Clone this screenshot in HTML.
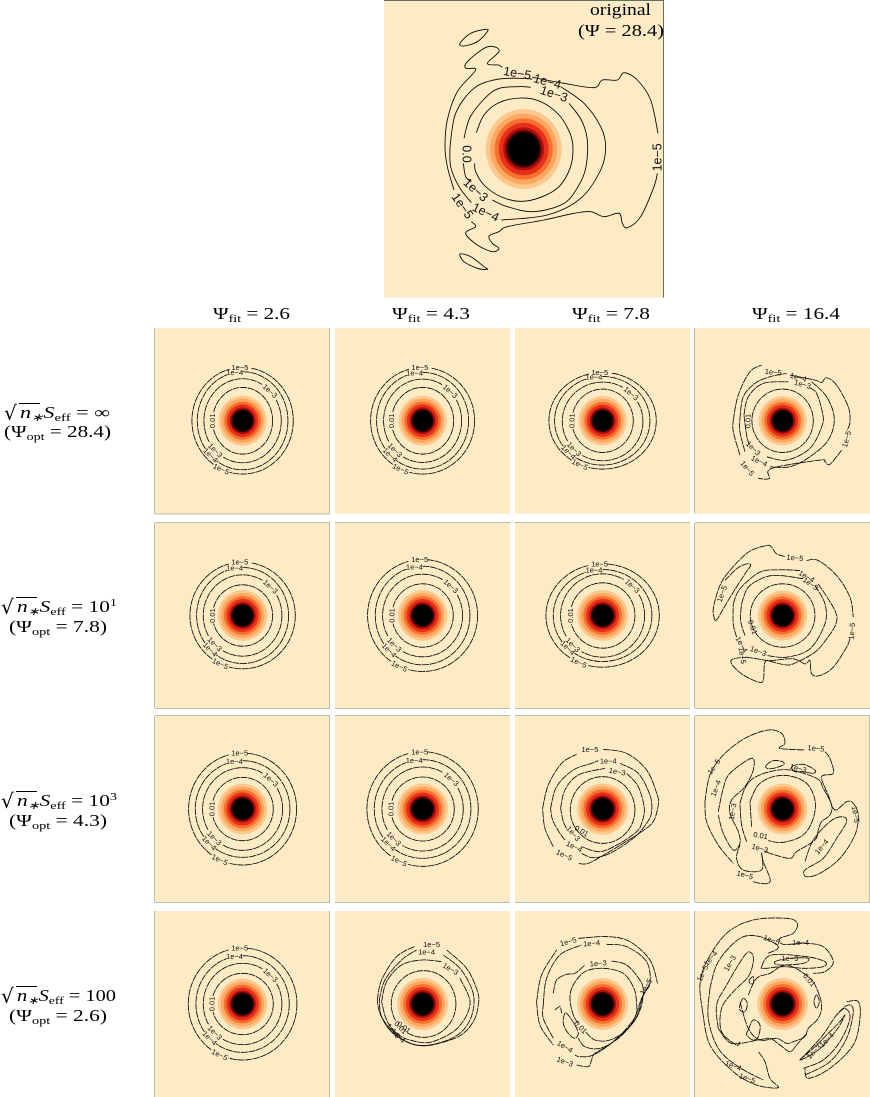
<!DOCTYPE html>
<html lang="en">
<head>
<meta charset="utf-8">
<title>Contour panels</title>
<style>
html,body{margin:0;padding:0;background:#fff;}
svg{display:block;}
.m{font-family:"Liberation Serif",serif;font-size:16.5px;fill:#000;}
.i{font-style:italic;}
.s{font-size:11px;}
</style>
</head>
<body>
<svg id="fig" width="870" height="1097" viewBox="0 0 870 1097" xmlns="http://www.w3.org/2000/svg">
  <g id="panels"></g>

  <text class="m" x="590" y="15" textLength="61" lengthAdjust="spacingAndGlyphs">original</text>
  <text class="m" x="578" y="36" textLength="86" lengthAdjust="spacingAndGlyphs">(Ψ = 28.4)</text>

  <text class="m" x="213" y="319" textLength="77" lengthAdjust="spacingAndGlyphs">Ψ<tspan class="s" dy="3">fit</tspan><tspan dy="-3"> = 2.6</tspan></text>
  <text class="m" x="392" y="319" textLength="78" lengthAdjust="spacingAndGlyphs">Ψ<tspan class="s" dy="3">fit</tspan><tspan dy="-3"> = 4.3</tspan></text>
  <text class="m" x="572" y="319" textLength="78" lengthAdjust="spacingAndGlyphs">Ψ<tspan class="s" dy="3">fit</tspan><tspan dy="-3"> = 7.8</tspan></text>
  <text class="m" x="752" y="319" textLength="88" lengthAdjust="spacingAndGlyphs">Ψ<tspan class="s" dy="3">fit</tspan><tspan dy="-3"> = 16.4</tspan></text>

  <g>
    <text class="m" x="4" y="420" style="font-size:20px;font-family:'DejaVu Sans',sans-serif">√</text>
    <line x1="19" y1="403.5" x2="40" y2="403.5" stroke="#000" stroke-width="0.9"/>
    <text class="m" x="20" y="418" textLength="90" lengthAdjust="spacingAndGlyphs"><tspan class="i">n</tspan><tspan class="s i" dy="3">∗</tspan><tspan class="i" dy="-3">S</tspan><tspan class="s" dy="3">eff</tspan><tspan dy="-3"> = ∞</tspan></text>
    <text class="m" x="4" y="437" textLength="107" lengthAdjust="spacingAndGlyphs">(Ψ<tspan class="s" dy="3">opt</tspan><tspan dy="-3"> = 28.4)</tspan></text>
  </g>
  <g>
    <text class="m" x="1" y="614" style="font-size:20px;font-family:'DejaVu Sans',sans-serif">√</text>
    <line x1="16" y1="597.5" x2="37" y2="597.5" stroke="#000" stroke-width="0.9"/>
    <text class="m" x="17" y="612" textLength="100" lengthAdjust="spacingAndGlyphs"><tspan class="i">n</tspan><tspan class="s i" dy="3">∗</tspan><tspan class="i" dy="-3">S</tspan><tspan class="s" dy="3">eff</tspan><tspan dy="-3"> = 10</tspan><tspan class="s" dy="-6">1</tspan></text>
    <text class="m" x="9" y="632" textLength="98" lengthAdjust="spacingAndGlyphs">(Ψ<tspan class="s" dy="3">opt</tspan><tspan dy="-3"> = 7.8)</tspan></text>
  </g>
  <g>
    <text class="m" x="1" y="808" style="font-size:20px;font-family:'DejaVu Sans',sans-serif">√</text>
    <line x1="16" y1="791.5" x2="37" y2="791.5" stroke="#000" stroke-width="0.9"/>
    <text class="m" x="17" y="806" textLength="100" lengthAdjust="spacingAndGlyphs"><tspan class="i">n</tspan><tspan class="s i" dy="3">∗</tspan><tspan class="i" dy="-3">S</tspan><tspan class="s" dy="3">eff</tspan><tspan dy="-3"> = 10</tspan><tspan class="s" dy="-6">3</tspan></text>
    <text class="m" x="9" y="826" textLength="98" lengthAdjust="spacingAndGlyphs">(Ψ<tspan class="s" dy="3">opt</tspan><tspan dy="-3"> = 4.3)</tspan></text>
  </g>
  <g>
    <text class="m" x="1" y="1003" style="font-size:20px;font-family:'DejaVu Sans',sans-serif">√</text>
    <line x1="16" y1="986.5" x2="37" y2="986.5" stroke="#000" stroke-width="0.9"/>
    <text class="m" x="17" y="1001" textLength="99" lengthAdjust="spacingAndGlyphs"><tspan class="i">n</tspan><tspan class="s i" dy="3">∗</tspan><tspan class="i" dy="-3">S</tspan><tspan class="s" dy="3">eff</tspan><tspan dy="-3"> = 100</tspan></text>
    <text class="m" x="9" y="1021" textLength="98" lengthAdjust="spacingAndGlyphs">(Ψ<tspan class="s" dy="3">opt</tspan><tspan dy="-3"> = 2.6)</tspan></text>
  </g>
</svg>

<script>
// ---- heat map levels ----
const heatColors = ['#fdc88e', '#fda862', '#f7702e', '#e7301c', '#b00f0c', '#520000', '#000000'];
const heatFractions = [1, 0.885, 0.765, 0.655, 0.54, 0.47, 0.42];

// ---- ring contours: [dx, dy, rx, ry] in grid units around each panel's centre ----
const ringsR1C1 = [[0,0,90,100],[0,0,116,126],[0,0,136,147],[0,0,152,160]];
const ringsR1C2 = [[0,0,93,100],[0,0,117,125],[0,0,138,145],[0,0,156,160]];
const ringsR1C3 = [[0,0,92,95],[0,2,121,118],[-1,0,143,133],[0,0,161,145]];
const ringsR2C1 = [[0,0,90,92],[0,0,118,122],[0,0,138,144],[0,0,158,160]];
const ringsR2C2 = [[0,0,92,95],[0,0,120,124],[0,0,142,148],[0,0,165,168]];
const ringsR2C3 = [[0,0,97,98],[0,0,126,125],[0,0,148,138],[0,0,170,155]];
const ringsR3C1 = [[0,0,92,95],[0,0,120,124],[0,0,142,145],[0,0,162,168]];
const ringsR3C2 = [[0,0,95,96],[0,0,122,126],[0,0,145,148],[0,0,167,172]];
const ringsR4C1 = [[0,0,92,92],[0,0,118,122],[0,0,140,145],[0,0,163,168]];
// a single inner ring for the panels whose outer contours are traced
const ringInnerR1C4 = [[0,0,92,95]];
const ringInnerR2C4 = [[0,0,97,95]];
const ringInnerR3C3 = [[0,3,97,100]];
const ringInnerR4C2 = [[3,0,97,100]];

// ---- ring labels: [ring index, angle clockwise from east, text, text rotation] ----
const ringLabelsStandard = [
  [3, 267, '1e−5', 0],
  [2, 260, '1e−4', 0],
  [1, 315, '1e−3', 42],
  [0, 180, '0.01', -90],
  [1, 135, '1e−3', 45],
  [2, 135, '1e−4', 45],
  [3, 115, '1e−5', 25]
];
const ringLabelsInnerDiag = [[0, 135, '0.01', 45]];

// ---- traced contours, grid units (first point equals last point when closed) ----
const contoursTop = [
  [[277,398],[300,345],[345,308],[410,294],[470,305],[525,345],[558,400],[567,447],[558,505],[525,560],[470,592],[410,604],[350,590],[300,555],[275,515],[272,490]],
  [[240,415],[262,345],[330,272],[400,260],[440,262]],
  [[555,310],[592,360],[610,420],[606,500],[585,555],[540,610],[450,635],[370,620],[325,600]],
  [[262,545],[245,530],[238,490]],
  [[198,440],[215,340],[270,265],[340,238],[420,235],[445,238]],
  [[530,260],[600,310],[650,380],[665,440],[650,510],[590,595],[490,645],[352,660]],
  [[262,608],[225,560],[200,500],[198,440]],
  [[345,195],[355,202]],
  [[445,232],[540,250],[630,263],[655,240],[700,240],[720,218],[760,240],[800,300],[822,400]],
  [[820,520],[810,560],[770,650],[730,683],[715,670],[705,640],[660,650],[620,635],[570,640],[480,660],[370,680],[345,695],[315,708],[325,730],[345,745],[325,755],[280,735],[245,700],[275,680],[262,665]],
  [[210,570],[190,500],[183,440],[190,360],[220,275],[275,210],[245,205],[250,185],[300,145],[330,140],[345,155],[310,190],[345,195]],
  [[228,130],[260,100],[305,88],[310,95],[280,125],[240,138],[228,130]],
  [[228,762],[260,770],[300,800],[310,808],[280,805],[240,785],[228,762]]
];
const labelsTop = [
  ['1e−5',400,220,10],['1e−4',490,245,15],['1e−3',510,282,18],['0.0',248,462,90],
  ['1e−3',275,570,42],['1e−4',305,637,25],['1e−5',235,618,55],['1e−5',820,472,-90]
];
const contoursR1C4 = [
  [[162,270],[175,215],[220,175],[295,170]],
  [[360,188],[380,205],[397,260],[397,300],[360,370],[290,405],[230,395]],
  [[178,360],[170,330],[162,270]],
  [[150,280],[160,215],[195,175],[240,155],[290,145]],
  [[365,170],[410,215],[433,280],[415,345],[360,395],[300,425],[240,425]],
  [[165,380],[150,320],[150,280]],
  [[130,285],[145,210],[180,140],[215,120]],
  [[300,150],[375,165],[395,172],[410,158],[440,180],[475,245],[480,290],[472,315]],
  [[455,375],[420,418],[405,410],[390,405],[245,430],[238,460],[205,460]],
  [[150,390],[130,320],[130,285]]
];
const labelsR1C4 = [
  ['1e−5',250,141,5],['1e−4',325,157,15],['1e−3',338,178,15],['0.01',174,288,-90],
  ['1e−3',190,370,45],['1e−4',208,408,25],['1e−5',172,430,50],['1e−5',470,342,-75]
];
const contoursR2C4 = [
  [[155,250],[175,200],[225,170],[270,165],[340,175]],
  [[375,195],[405,250],[405,310],[360,385],[290,410],[230,405]],
  [[165,345],[152,300],[155,250]],
  [[130,250],[150,205],[210,155],[270,148],[330,150]],
  [[385,190],[435,270],[438,310],[410,355],[375,395],[310,430],[280,432],[230,420],[170,410]],
  [[140,350],[130,310],[130,250]],
  [[75,300],[70,265],[90,195],[120,150],[175,95],[230,75],[245,80],[260,100],[285,108]],
  [[350,120],[385,120],[440,165],[480,230],[490,290]],
  [[480,355],[470,380],[430,440],[390,465],[365,460],[360,420],[345,430],[310,415],[250,420],[225,425],[220,480],[200,483],[155,460],[125,430],[130,415],[170,410]],
  [[75,300],[82,296],[100,265],[130,215],[165,160],[182,135],[170,130],[140,145],[105,180]]
];
const labelsR2C4 = [
  ['1e−5',315,112,5],['1e−4',350,168,30],['1e−3',362,190,35],['0.01',188,320,70],
  ['1e−3',205,392,20],['1e−4',155,372,60],['1e−5',157,405,80],['1e−5',96,220,-70],['1e−5',486,332,-85]
];
const contoursR3C3 = [
  [[152,280],[165,225],[205,180],[285,160]],
  [[350,175],[385,215],[403,280],[395,325],[380,350],[330,385],[270,410],[215,395]],
  [[170,340],[160,320],[152,280]],
  [[122,280],[140,215],[190,165],[245,145],[265,137]],
  [[330,145],[385,175],[420,240],[425,290],[410,325],[370,370],[300,415],[250,428],[215,415]],
  [[165,375],[150,355],[128,315],[122,280]],
  [[98,280],[115,210],[155,145],[200,118]],
  [[280,103],[350,115],[410,165],[442,240],[445,270],[430,320],[395,350],[340,385],[290,415],[235,445],[205,445]],
  [[130,395],[105,340],[98,280]]
];
const labelsR3C3 = [
  ['1e−5',240,104,0],['1e−4',295,138,0],['1e−3',322,170,10],['0.01',215,348,30],
  ['1e−3',190,356,50],['1e−4',193,395,25],['1e−5',163,420,25]
];
const contoursR4C2 = [
  [[155,290],[170,230],[215,180],[275,165],[335,170]],
  [[390,220],[415,270],[420,300],[405,340],[370,380],[300,412],[240,405],[200,385],[170,345],[155,290]],
  [[148,285],[165,225],[215,165],[260,135]],
  [[340,150],[390,190],[425,250],[432,300],[415,355],[375,395],[300,420],[240,415],[190,380],[155,335],[148,285]],
  [[142,285],[155,225],[200,155],[255,124]],
  [[350,135],[410,190],[443,260],[445,300],[430,350],[385,395],[290,422],[230,410],[180,375],[150,325],[142,285]]
];
const labelsR4C2 = [
  ['1e−5',305,119,0],['1e−4',290,141,0],['1e−3',362,192,30],['0.01',222,367,35],
  ['1e−3',190,378,50],['1e−4',205,392,45]
];
const contoursR4C3 = [
  [[380,290],[372,250],[340,205],[280,190],[225,200],[190,240],[180,280],[190,330],[205,355]],
  [[228,382],[255,405],[300,405],[350,375],[378,330],[380,290]],
  [[130,265],[140,225],[170,208],[195,205],[225,180]],
  [[305,168],[350,180],[390,225],[400,255],[395,300],[375,345],[325,400],[270,430],[225,425],[205,400]],
  [[135,315],[150,305],[155,325]],
  [[165,325],[160,355],[175,385],[195,400],[205,385],[195,360],[175,330],[165,325]],
  [[100,300],[110,220],[150,150],[215,120]],
  [[290,118],[350,125],[410,170],[420,235],[400,270],[375,345],[310,410],[250,450],[210,455],[195,450]],
  [[130,400],[100,340],[100,300]],
  [[80,290],[95,210],[140,135]],
  [[205,100],[295,95],[360,110],[420,165],[443,235]],
  [[80,290],[90,360],[130,420]],
  [[200,480],[235,485],[245,465],[255,445],[310,410],[370,345],[395,280],[420,235]]
];
const labelsR4C3 = [
  ['1e−5',175,110,-15],['1e−4',245,115,-5],['1e−3',265,175,-5],['0.01',212,367,45],
  ['1e−4',165,425,30],['1e−3',165,470,20],['1e−5',408,245,-60]
];
const contoursR3C4 = [
  [[180,260],[205,210],[250,185],[300,183],[350,205],[375,255],[370,310],[340,360],[280,382],[235,377]],
  [[185,335],[180,260]],
  [[150,265],[165,220],[190,190],[240,170],[300,165],[380,190],[400,220],[425,270],[420,300],[395,320],[385,345],[375,375],[320,410],[300,430],[240,415],[225,408]],
  [[170,380],[155,330],[150,265]],
  [[85,290],[100,220],[120,175],[185,130],[190,165],[165,215],[125,255],[120,295],[145,350],[150,385],[130,405],[100,355],[85,300]],
  [[45,260],[60,180],[100,120],[165,70],[235,45],[275,55],[285,85],[270,100],[345,105]],
  [[405,110],[420,130],[430,175],[395,185],[415,240],[435,285],[470,260],[490,265],[505,300],[495,360],[450,430],[390,475],[350,485],[345,465],[400,430],[440,370],[470,320],[455,305],[420,320],[370,375],[345,440]],
  [[45,260],[50,320],[85,390],[130,445]],
  [[190,500],[210,505],[235,505],[240,490],[220,440],[215,415],[215,465],[160,465],[140,430],[150,390]],
  [[228,152],[250,137],[278,140],[280,150],[250,160],[232,160],[228,152]],
  [[305,155],[340,148],[375,165],[370,175],[340,170],[315,170],[305,155]]
];
const labelsR3C4 = [
  ['1e−5',378,100,5],['1e−5',72,155,-55],['1e−4',78,220,-70],['1e−3',128,290,-80],['0.01',212,362,10],
  ['1e−3',210,400,15],['1e−5',165,480,15],['1e−5',497,298,80],['1e−4',395,395,-50],['1e−3',325,160,15]
];
const contoursR4C4 = [
  [[38,320],[30,240],[50,170],[110,85],[190,45],[290,40],[322,55],[310,85],[270,100],[280,118],[345,115],[400,125],[430,170],[405,200],[370,205]],
  [[470,290],[505,290],[510,340],[490,420],[420,490],[355,520],[345,490]],
  [[38,320],[60,420],[130,500],[200,540],[265,548],[240,520],[225,470],[205,440]],
  [[60,250],[85,170],[150,100],[210,95],[265,125],[235,145]],
  [[85,370],[80,300],[110,240],[165,150],[185,145],[190,170],[175,215],[130,260],[95,310],[95,380],[140,420],[150,410]],
  [[340,490],[400,465],[450,410],[480,340],[465,310],[440,330]],
  [[330,465],[385,435],[440,375],[465,330],[450,350],[420,380],[370,430],[330,465]],
  [[345,510],[420,470],[470,400],[490,320],[475,300],[440,330],[395,395],[330,465]],
  [[215,185],[245,150],[350,155],[405,170],[400,185],[345,190],[280,185],[225,190],[215,185]],
  [[255,170],[300,160],[355,160],[340,175],[270,180],[255,170]],
  [[175,270],[200,220],[240,205],[290,180],[355,215],[380,250],[395,300],[385,340],[355,370],[345,395],[310,410],[290,415],[260,400],[210,405],[175,370],[150,290]],
  [[175,375],[190,345],[210,360],[205,395],[190,405],[170,390],[175,375]],
  [[150,300],[160,280],[172,295],[165,320],[150,315],[150,300]],
  [[178,225],[190,215],[190,235],[180,235],[178,225]],
  [[85,370],[125,415],[205,405],[240,400],[270,420],[300,440],[320,420],[350,385]],
  [[60,250],[55,340],[85,430],[145,485],[220,525]],
  [[380,270],[388,290],[380,310],[372,290],[380,270]]
];
const labelsR4C4 = [
  ['1e−4',332,113,0],['1e−5',38,205,-65],['1e−4',62,160,-50],['1e−3',120,175,-60],['1e−3',300,160,0],
  ['1e−5',172,520,20],['1e−4',130,482,20],['1e−3',372,440,-45],['1e−4',410,405,-45],['0.01',358,225,50],['1e−5',245,105,20]
];

// ---- panels ----
const panelNames = ['top','r1c1','r1c2','r1c3','r1c4','r2c1','r2c2','r2c3','r2c4','r3c1','r3c2','r3c3','r3c4','r4c1','r4c2','r4c3','r4c4'];
const panelRows = [-1,0,0,0,0,1,1,1,1,2,2,2,2,3,3,3,3];
const panelCols = [-1,0,1,2,3,0,1,2,3,0,1,2,3,0,1,2,3];
const panelGridCentres = [[419,447],[0,0],[0,0],[0,0],[278,287],[0,0],[0,0],[0,0],[278,285],[0,0],[0,0],[278,282],[278,282],[0,0],[278,297],[278,297],[278,297]];
const panelRadii = [[114,120],[72,75],[72,75],[72,74],[72,74],[74,76],[74,76],[76,76],[74,75],[74,76],[76,76],[76,77],[74,76],[74,76],[76,78],[76,78],[76,78]];
const panelRings = [[],ringsR1C1,ringsR1C2,ringsR1C3,ringInnerR1C4,ringsR2C1,ringsR2C2,ringsR2C3,ringInnerR2C4,ringsR3C1,ringsR3C2,ringInnerR3C3,[],ringsR4C1,ringInnerR4C2,[],[]];
const panelRingLabels = [[],ringLabelsStandard,ringLabelsStandard,ringLabelsStandard,[],ringLabelsStandard,ringLabelsStandard,ringLabelsStandard,[],ringLabelsStandard,ringLabelsStandard,[],[],ringLabelsStandard,ringLabelsInnerDiag,[],[]];
const panelContours = [contoursTop,[],[],[],contoursR1C4,[],[],[],contoursR2C4,[],[],contoursR3C3,contoursR3C4,[],contoursR4C2,contoursR4C3,contoursR4C4];
const panelLabels = [labelsTop,[],[],[],labelsR1C4,[],[],[],labelsR2C4,[],[],labelsR3C3,labelsR3C4,[],labelsR4C2,labelsR4C3,labelsR4C4];
const panelBorders = ['tr','lrb','','','l','lrtb','tb','tb','ltb','lrtb','tb','tb','ltrb','lr','','','l'];

const NS = 'http://www.w3.org/2000/svg';
const root = document.getElementById('panels');
const rowTop = [328, 523, 716, 911];
const rowBottom = [513.5, 708, 902, 1097];
const colLeft = [155, 335, 515, 695];
const panelSize = 175;
const gridToPx = 1 / 3;

function xAxis(frame, v) { return frame.cx + (v - frame.gx) * gridToPx; }
function yAxis(frame, v) { return frame.cy + (v - frame.gy) * gridToPx; }

function make(tag, attrs, parent) {
  const el = document.createElementNS(NS, tag);
  for (const k in attrs) el.setAttribute(k, attrs[k]);
  parent.appendChild(el);
  return el;
}

function smoothPath(pts) {
  const closed = pts.length > 2 && pts[0][0] === pts[pts.length-1][0] && pts[0][1] === pts[pts.length-1][1];
  const p = closed ? pts.slice(0, -1) : pts;
  const n = p.length;
  const at = i => closed ? p[(i + n) % n] : p[Math.max(0, Math.min(n - 1, i))];
  let d = 'M' + p[0][0].toFixed(2) + ' ' + p[0][1].toFixed(2);
  const last = closed ? n : n - 1;
  for (let i = 0; i < last; i++) {
    const a = at(i-1), b = at(i), c = at(i+1), e = at(i+2);
    const c1x = b[0] + (c[0]-a[0])/6, c1y = b[1] + (c[1]-a[1])/6;
    const c2x = c[0] - (e[0]-b[0])/6, c2y = c[1] - (e[1]-b[1])/6;
    d += 'C' + [c1x,c1y,c2x,c2y,c[0],c[1]].map(v => v.toFixed(2)).join(' ');
  }
  return d + (closed ? 'Z' : '');
}

function drawContourLine(parent, frame, gridPts, isTop) {
  const px = gridPts.map(q => [xAxis(frame, q[0]), yAxis(frame, q[1])]);
  const line = make('path', {
    d: smoothPath(px), fill: 'none', stroke: '#000',
    'stroke-width': isTop ? 0.85 : 0.8,
    'stroke-dasharray': isTop ? 'none' : '7 0.7'
  }, parent);
  
  
}

function drawLabel(parent, frame, text, gx, gy, rot, isTop) {
  const x = xAxis(frame, gx), y = yAxis(frame, gy);
  const t = make('text', {
    x: x.toFixed(2), y: y.toFixed(2),
    'text-anchor': 'middle', 'dominant-baseline': 'central',
    'font-family': '"Liberation Sans", sans-serif',
    'font-size': isTop ? 12.5 : 7.5, fill: '#111',
    transform: 'rotate(' + rot + ' ' + x.toFixed(2) + ' ' + y.toFixed(2) + ')'
  }, parent);
  t.textContent = text;
  
  
}

panelNames.forEach((name, idx) => {
  const isTop = panelRows[idx] < 0;
  const left = isTop ? 384 : colLeft[panelCols[idx]];
  const top = isTop ? 0 : rowTop[panelRows[idx]];
  const w = isTop ? 280 : panelSize;
  const h = isTop ? 297.5 : rowBottom[panelRows[idx]] - top;
  const frame = {
    cx: isTop ? 523.67 : left + 87.6,
    cy: isTop ? 149 : top + h / 2,
    gx: panelGridCentres[idx][0],
    gy: panelGridCentres[idx][1]
  };

  const g = make('g', {}, root);
  
  

  const bg = make('rect', { x: left, y: top, width: w, height: h, fill: '#fdebc5' }, g);
  
  

  // heat map bands
  const heat = make('g', {}, g);
  
  
  heatColors.forEach((color, k) => {
    make('ellipse', {
      cx: frame.cx, cy: frame.cy,
      rx: panelRadii[idx][0] * heatFractions[k] * gridToPx,
      ry: panelRadii[idx][1] * heatFractions[k] * gridToPx,
      fill: color
    }, heat);
  });

  // elliptical rings, broken where their labels sit
  const rings = panelRings[idx];
  const ringLabs = panelRingLabels[idx];
  rings.forEach((ring, ri) => {
    const gaps = ringLabs.filter(l => l[0] === ri).map(l => l[1]);
    const half = 1300 / Math.max(ring[2], ring[3]);
    let seg = [];
    for (let a = 0; a <= 360; a += 5) {
      const inGap = gaps.some(c => {
        let diff = Math.abs(a - c) % 360;
        if (diff > 180) diff = 360 - diff;
        return diff < half;
      });
      if (inGap) {
        if (seg.length > 1) drawContourLine(g, frame, seg, isTop);
        seg = [];
      } else {
        const r = a * Math.PI / 180;
        seg.push([frame.gx + ring[0] + ring[2] * Math.cos(r), frame.gy + ring[1] + ring[3] * Math.sin(r)]);
      }
    }
    if (seg.length > 1) drawContourLine(g, frame, seg, isTop);
  });
  ringLabs.forEach(l => {
    const ring = rings[l[0]];
    const r = l[1] * Math.PI / 180;
    drawLabel(g, frame, l[2], frame.gx + ring[0] + ring[2] * Math.cos(r), frame.gy + ring[1] + ring[3] * Math.sin(r), l[3], isTop);
  });

  // traced contours
  panelContours[idx].forEach(pts => drawContourLine(g, frame, pts, isTop));
  panelLabels[idx].forEach(l => drawLabel(g, frame, l[0], l[1], l[2], l[3], isTop));

  // frame edges
  const stroke = isTop ? '#5d6f62' : '#b4bfa9';
  const edges = {
    l: [left - 0.5, top, left - 0.5, top + h],
    r: [left + w - 0.5, top, left + w - 0.5, top + h],
    t: [left, isTop ? 0.5 : top - 0.5, left + w, isTop ? 0.5 : top - 0.5],
    b: [left, top + h + 0.5, left + w, top + h + 0.5]
  };
  panelBorders[idx].split('').forEach(side => {
    const e = edges[side];
    const edge = make('line', { x1: e[0], y1: e[1], x2: e[2], y2: e[3], stroke: stroke, 'stroke-width': 1 }, g);
    
    
  });
});
</script>
</body>
</html>
